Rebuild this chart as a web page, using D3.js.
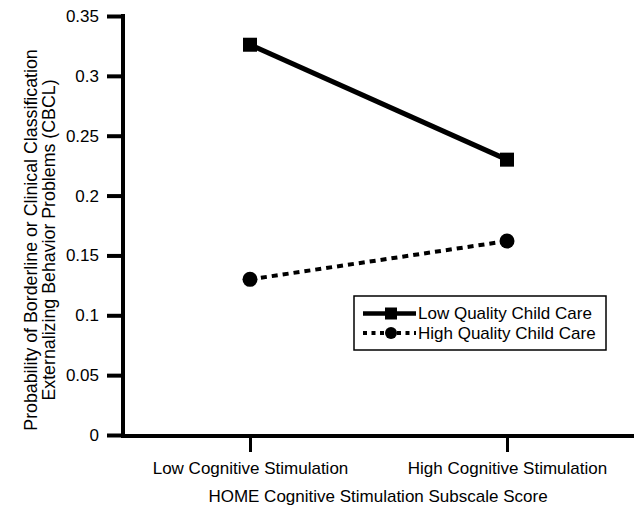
<!DOCTYPE html>
<html>
<head>
<meta charset="utf-8">
<script src="https://cdn.jsdelivr.net/npm/d3@7"></script>
<style>
  body { margin: 0; background: #fff; }
  svg { display: block; }
  text { font-family: Arial, "Liberation Sans", Helvetica, sans-serif; fill: #000; }
</style>
</head>
<body>
<svg id="chart" width="634" height="510"></svg>
<script>
// data
const categories = ['Low Cognitive Stimulation', 'High Cognitive Stimulation'];
const seriesNames = ['Low Quality Child Care', 'High Quality Child Care'];
const lowQuality = [0.326, 0.23];
const highQuality = [0.13, 0.162];
const yTicks = [0, 0.05, 0.1, 0.15, 0.2, 0.25, 0.3, 0.35];

const svg = d3.select('#chart');
const plot = {left: 123, top: 16, bottom: 435, right: 634};

const x = d3.scalePoint()
  .domain(categories)
  .range([250, 507]);

const y = d3.scaleLinear()
  .domain([0, 0.35])
  .range([plot.bottom, plot.top]);

// y axis
const yAxis = svg.append('g')
  .attr('transform', 'translate(' + plot.left + ',0)')
  .call(d3.axisLeft(y)
    .tickValues(yTicks)
    .tickSize(16)
    .tickSizeOuter(0)
    .tickPadding(8)
    .tickFormat(d => String(+d.toFixed(2))));

yAxis.select('.domain')
  .attr('stroke', '#000')
  .attr('stroke-width', 4)
  .attr('d', 'M0,' + (plot.top - 2) + 'V' + (plot.bottom + 2));
yAxis.selectAll('.tick line').attr('stroke', '#000').attr('stroke-width', 4);
yAxis.selectAll('.tick text')
  .style('font-size', '17px')
  .attr('fill', '#000');

// x axis
const xAxis = svg.append('g')
  .attr('transform', 'translate(0,' + plot.bottom + ')')
  .call(d3.axisBottom(x)
    .tickSize(17)
    .tickSizeOuter(0));

xAxis.select('.domain')
  .attr('stroke', '#000')
  .attr('stroke-width', 4)
  .attr('d', 'M' + (plot.left - 2) + ',1H' + plot.right);
xAxis.selectAll('.tick line').attr('stroke', '#000').attr('stroke-width', 3);
xAxis.selectAll('.tick text')
  .attr('y', 39)
  .attr('dy', 0)
  .style('font-size', '17px')
  .attr('fill', '#000');

// axis titles
svg.append('text')
  .attr('x', 378)
  .attr('y', 502)
  .attr('text-anchor', 'middle')
  .style('font-size', '17px')
  .text('HOME Cognitive Stimulation Subscale Score');

const yTitle = svg.append('text')
  .attr('transform', 'translate(37,240) rotate(-90)')
  .attr('text-anchor', 'middle')
  .style('font-size', '17.8px');
yTitle.append('tspan')
  .attr('x', 0).attr('y', 0)
  .text('Probability of Borderline or Clinical Classification');
yTitle.append('tspan')
  .attr('x', 0).attr('y', 18)
  .text('Externalizing Behavior Problems (CBCL)');

// lines
const line = d3.line()
  .x((d, i) => x(categories[i]))
  .y(d => y(d));

svg.append('path')
  .datum(lowQuality)
  .attr('d', line)
  .attr('fill', 'none')
  .attr('stroke', '#000')
  .attr('stroke-width', 5);

svg.append('path')
  .datum(highQuality)
  .attr('d', line)
  .attr('fill', 'none')
  .attr('stroke', '#000')
  .attr('stroke-width', 4)
  .attr('stroke-dasharray', '6,5');

svg.selectAll('rect.mark')
  .data(lowQuality)
  .join('rect')
    .attr('class', 'mark')
    .attr('x', (d, i) => x(categories[i]) - 7)
    .attr('y', d => y(d) - 7)
    .attr('width', 14)
    .attr('height', 14)
    .attr('fill', '#000');

svg.selectAll('circle.mark')
  .data(highQuality)
  .join('circle')
    .attr('class', 'mark')
    .attr('cx', (d, i) => x(categories[i]))
    .attr('cy', d => y(d))
    .attr('r', 7.5)
    .attr('fill', '#000');

// legend
const legend = svg.append('g')
  .attr('transform', 'translate(354,296)');

legend.append('rect')
  .attr('width', 252)
  .attr('height', 54)
  .attr('fill', '#fff')
  .attr('stroke', '#000')
  .attr('stroke-width', 1.5);

const rows = legend.selectAll('g.row')
  .data(seriesNames)
  .join('g')
    .attr('class', 'row')
    .attr('transform', (d, i) => 'translate(0,' + (17.5 + i * 19.5) + ')');

rows.append('line')
  .attr('x1', 9)
  .attr('x2', 62)
  .attr('stroke', '#000')
  .attr('stroke-width', (d, i) => i ? 4 : 4.5)
  .attr('stroke-dasharray', (d, i) => i ? '4,4.5' : null);

rows.filter((d, i) => i === 0)
  .append('rect')
  .attr('x', 31).attr('y', -6)
  .attr('width', 12).attr('height', 12)
  .attr('fill', '#000');

rows.filter((d, i) => i === 1)
  .append('circle')
  .attr('cx', 37)
  .attr('r', 6)
  .attr('fill', '#000');

rows.append('text')
  .attr('x', 64)
  .attr('dy', '0.35em')
  .style('font-size', '17px')
  .text(d => d);
</script>
</body>
</html>
